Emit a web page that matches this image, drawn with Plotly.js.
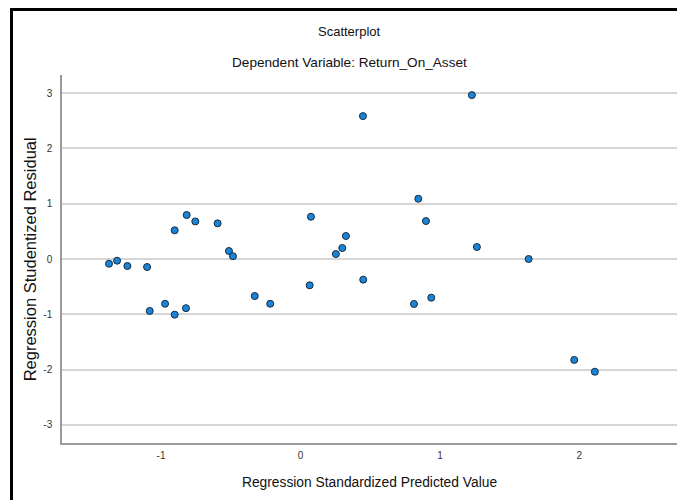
<!DOCTYPE html>
<html>
<head>
<meta charset="utf-8">
<script src="https://cdn.plot.ly/plotly-3.0.1.min.js"></script>
<style>
  html, body { margin: 0; padding: 0; overflow: hidden; background: #fff; }
  #frame { position: absolute; left: 10px; top: 8px; width: 800px; height: 600px; border: 3px solid #000; box-sizing: border-box; pointer-events: none; z-index: 10; }
  #chart { position: absolute; left: 0; top: 0; width: 677px; height: 500px; }
</style>
</head>
<body>
<div id="chart"></div>
<div id="frame"></div>
<script>
// Regression Standardized Predicted Value
const predicted = [
  -1.373, -1.315, -1.241, -1.100, -1.081, -0.971, -0.902, -0.821,
  -0.902, -0.816, -0.754, -0.594, -0.513, -0.484, -0.328, -0.217,
  0.075, 0.066, 1.229, 0.448, 0.845, 0.900, 0.326, 0.300,
  0.254, 1.265, 1.636, 0.450, 0.814, 0.938, 1.963, 2.111
];
// Regression Studentized Residual
const residual = [
  -0.085, -0.030, -0.127, -0.145, -0.940, -0.810, -1.007, -0.890,
  0.519, 0.796, 0.680, 0.645, 0.145, 0.050, -0.670, -0.810,
  0.765, -0.476, 2.966, 2.586, 1.090, 0.687, 0.416, 0.199,
  0.090, 0.217, 0.000, -0.374, -0.814, -0.700, -1.826, -2.040
];
const xTicks = [-1, 0, 1, 2];
const yTicks = [-3, -2, -1, 0, 1, 2, 3];

const FONT = '"Liberation Sans", Arial, sans-serif';

const trace = {
  type: 'scatter',
  mode: 'markers',
  x: predicted,
  y: residual,
  marker: { size: 7, color: '#1a84d8', line: { color: '#1a2a3a', width: 1 } },
  hoverinfo: 'x+y'
};

const layout = {
  width: 677,
  height: 500,
  paper_bgcolor: '#ffffff',
  plot_bgcolor: '#ffffff',
  margin: { l: 62, r: 0, t: 75, b: 57 },
  showlegend: false,
  font: { family: FONT, color: '#222' },
  xaxis: {
    range: [-1.71, 2.70],
    tickvals: xTicks,
    ticktext: xTicks.map(String),
    showgrid: false,
    zeroline: false,
    showline: true,
    linecolor: '#9a9a9a',
    linewidth: 1.5,
    ticks: '',
    ticklabelstandoff: 2,
    tickfont: { size: 10, family: FONT, color: '#333' },
    title: { text: 'Regression Standardized Predicted Value', font: { size: 13.8, family: FONT, color: '#111' }, standoff: 18 }
  },
  yaxis: {
    range: [-3.33, 3.33],
    tickvals: yTicks,
    ticktext: yTicks.map(String),
    showgrid: true,
    gridcolor: '#d6d6d6',
    gridwidth: 1.5,
    zeroline: false,
    showline: true,
    linecolor: '#9a9a9a',
    linewidth: 1.5,
    ticks: '',
    ticklabelstandoff: 6,
    tickfont: { size: 10, family: FONT, color: '#333' }
  },
  annotations: [
    { text: 'Scatterplot', xref: 'paper', yref: 'paper', x: 0.468, y: 1.117, xanchor: 'center', yanchor: 'middle', showarrow: false, font: { size: 13, family: FONT, color: '#111' } },
    { text: 'Dependent Variable: Return_On_Asset', xref: 'paper', yref: 'paper', x: 0.468, y: 1.035, xanchor: 'center', yanchor: 'middle', showarrow: false, font: { size: 13.6, family: FONT, color: '#111' } },
    { text: 'Regression Studentized Residual', xref: 'paper', yref: 'paper', x: -0.0515, y: 0.5, xanchor: 'center', yanchor: 'middle', textangle: -90, showarrow: false, font: { size: 16.5, family: FONT, color: '#111' } }
  ]
};

Plotly.newPlot('chart', [trace], layout, { displayModeBar: false, responsive: false });
</script>
</body>
</html>
